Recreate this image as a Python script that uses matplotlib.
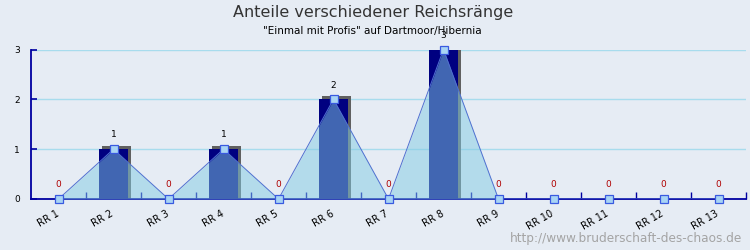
import matplotlib

matplotlib.use("Agg")
import matplotlib.pyplot as plt
import matplotlib.transforms as mtransforms
import numpy as np

categories = ["RR 1", "RR 2", "RR 3", "RR 4", "RR 5", "RR 6", "RR 7",
              "RR 8", "RR 9", "RR 10", "RR 11", "RR 12", "RR 13"]
values = [0, 1, 0, 1, 0, 2, 0, 3, 0, 0, 0, 0, 0]
y_ticks = [0, 1, 2, 3]

title = "Anteile verschiedener Reichsränge"
subtitle = "\"Einmal mit Profis\" auf Dartmoor/Hibernia"
watermark = "http://www.bruderschaft-des-chaos.de"

bg = "#e6ecf4"
axis_blue = "#0000a0"

fig = plt.figure(figsize=(7.5, 2.5), dpi=100, facecolor=bg)
ax = fig.add_axes([31 / 750, 51 / 250, 715 / 750, 149.5 / 250], facecolor=bg)

x = np.arange(len(categories))
ax.set_xlim(-0.5, len(categories) - 0.5)
ax.set_ylim(0, 3)

# grid lines
for yv in y_ticks[1:]:
    ax.axhline(yv, color="#a8dced", linewidth=1.0, zorder=1)

# 3d-ish shadow: shifted 3px right, 3px higher, still standing on the axis
dx = 3 / 55
dy = 3 / 49.8
heights = [v + dy if v > 0 else 0 for v in values]
ax.bar(x + dx, heights, width=0.53, color="#606060", zorder=2, linewidth=0)
ax.bar(x, values, width=0.53, color="#000080", zorder=3, linewidth=0)

# area + line
ax.fill_between(x, values, 0, color="#82cce4", alpha=0.5, zorder=4, linewidth=0)
ax.plot(x, values, color="#5070d0", linewidth=0.7, zorder=5)
ax.plot(x, values, linestyle="none", marker="s", markersize=6.2,
        markerfacecolor="#a8d4f4", markeredgecolor="#3a5ae0", markeredgewidth=0.9,
        zorder=6, clip_on=False)

for xi, v in zip(x, values):
    ax.annotate(str(v), (xi, v), xytext=(0, 7), textcoords="offset points",
                ha="center", va="bottom", fontsize=6.5,
                color="#b00000" if v == 0 else "black", zorder=7,
                annotation_clip=False)

for side in ["top", "right"]:
    ax.spines[side].set_visible(False)
for side in ["left", "bottom"]:
    ax.spines[side].set_color(axis_blue)
    ax.spines[side].set_linewidth(1.3)

ax.set_yticks(y_ticks)
ax.set_yticklabels([str(t) for t in y_ticks], fontsize=6.5)
ax.tick_params(axis="y", direction="in", length=4, width=1.2, color=axis_blue, pad=8)

ax.set_xticks(x)
ax.set_xticklabels(categories, rotation=30, ha="right", rotation_mode="anchor", fontsize=7)
ax.tick_params(axis="x", which="major", length=0, pad=7)
ax.set_xticks(np.arange(len(categories)) + 0.5, minor=True)
ax.tick_params(axis="x", which="minor", direction="in", length=5, width=1, color=axis_blue)
shift = mtransforms.ScaledTranslation(-3 / 100, 0, fig.dpi_scale_trans)
for lbl in ax.get_xticklabels():
    lbl.set_transform(lbl.get_transform() + shift)

fig.text(0.497, 0.952, title, ha="center", va="center", fontsize=11.5, color="#333333")
fig.text(0.497, 0.876, subtitle, ha="center", va="center", fontsize=7.5, color="black")
fig.text(0.99, 0.045, watermark, ha="right", va="center", fontsize=8.7, color="#a4a4a4")

fig.savefig("out.png", dpi=100, facecolor=bg)
